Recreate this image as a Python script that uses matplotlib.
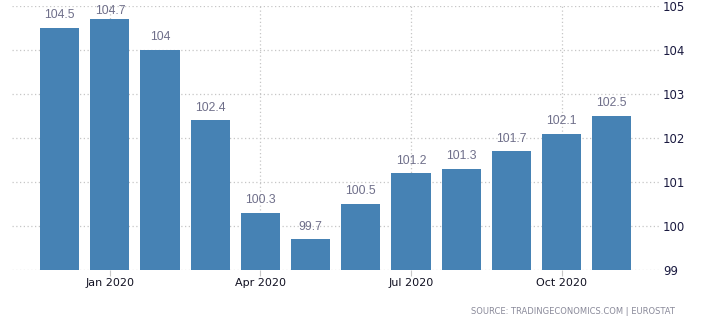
import matplotlib
matplotlib.use("Agg")
import matplotlib.pyplot as plt

months = ["Dec 2019", "Jan 2020", "Feb 2020", "Mar 2020", "Apr 2020", "May 2020",
          "Jun 2020", "Jul 2020", "Aug 2020", "Sep 2020", "Oct 2020", "Nov 2020"]
values = [104.5, 104.7, 104.0, 102.4, 100.3, 99.7, 100.5, 101.2, 101.3, 101.7, 102.1, 102.5]
value_labels = ["104.5", "104.7", "104", "102.4", "100.3", "99.7",
                "100.5", "101.2", "101.3", "101.7", "102.1", "102.5"]
tick_months = ["Jan 2020", "Apr 2020", "Jul 2020", "Oct 2020"]
y_ticks = [99, 100, 101, 102, 103, 104, 105]

W, H = 703, 323
fig = plt.figure(figsize=(W / 100, H / 100), dpi=100)
ax = fig.add_axes([12 / W, 1 - 270 / H, (660 - 12) / W, (270 - 6) / H])

base = 99
x = list(range(len(months)))
ax.bar(x, [v - base for v in values], bottom=base, width=0.78,
       color="#4682b4", zorder=3)

# value labels sit above each bar, but are kept inside the plot area at the top
for xi, v, lab in zip(x, values, value_labels):
    ax.text(xi, min(v + 0.15, 104.74), lab, ha="center", va="bottom", fontsize=8.8,
            color="#6f6f8a", family="Liberation Sans", zorder=4)

ax.set_xlim(-0.95, 11.96)
ax.set_ylim(99, 105)

ax.yaxis.tick_right()
ax.set_yticks(y_ticks)
ax.set_yticklabels([str(t) for t in y_ticks])
tick_pos = [months.index(m) for m in tick_months]
ax.set_xticks(tick_pos)
ax.set_xticklabels(tick_months)

ax.tick_params(axis="y", length=0, pad=2, labelsize=8.5, labelcolor="#1a1a40")
ax.tick_params(axis="x", length=4, width=0.8, color="#c8c8c8", pad=2,
               labelsize=8, labelcolor="#111122")

ax.grid(True, axis="both", linestyle=(0, (1, 2)), color="#c6c6c6",
        linewidth=0.9, zorder=0)
for s in ax.spines.values():
    s.set_visible(False)

fig.text(675 / W, 1 - 312 / H, "SOURCE: TRADINGECONOMICS.COM | EUROSTAT",
         ha="right", va="center", fontsize=6.0, color="#8a8a9a")

fig.savefig("out.png", dpi=100)
